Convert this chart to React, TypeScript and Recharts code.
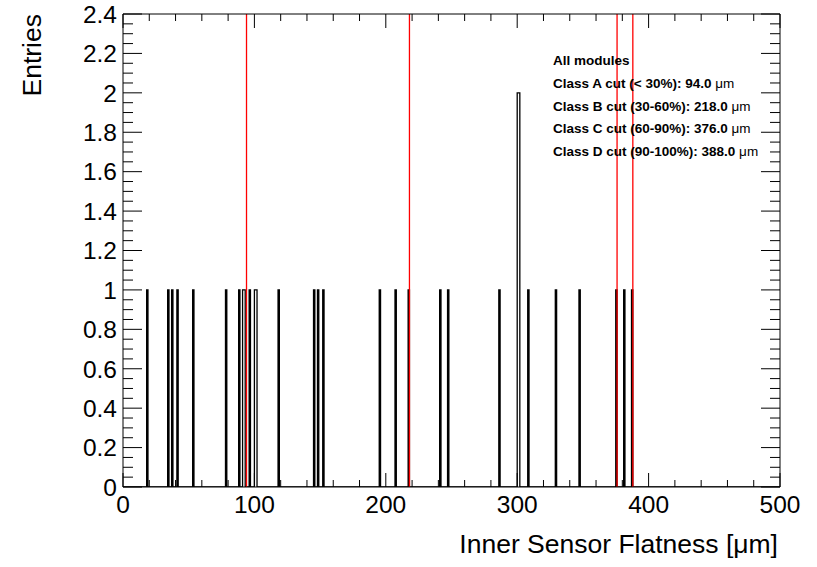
import React from 'react';
import { ComposedChart, Line, XAxis, YAxis, ReferenceLine } from 'recharts';

// Histogram: lower edges of filled bins (bin width 1 µm) and their entries
const binLowEdges = [18, 34, 37, 41, 53, 78, 88, 91, 92, 96, 100, 101, 118, 145, 148, 152, 195, 207, 217, 241, 247, 286, 300, 301, 308, 329, 347, 375, 381, 387];
const binCounts = [1, 1, 1, 1, 1, 1, 1, 1, 1, 1, 1, 1, 1, 1, 1, 1, 1, 1, 1, 1, 1, 1, 2, 2, 1, 1, 1, 1, 1, 1];
const binWidth = 1;
const histRange = [0, 500];
const yRange = [0, 2.4];

const cutValues = [94, 218, 376, 388];
const legendTitle = 'All modules';
const legendLines = [
  'Class A cut (< 30%): 94.0',
  'Class B cut (30-60%): 218.0',
  'Class C cut (60-90%): 376.0',
  'Class D cut (90-100%): 388.0',
];

const xMajorTicks = [0, 100, 200, 300, 400, 500];
const xAllTicks = [0, 20, 40, 60, 80, 100, 120, 140, 160, 180, 200, 220, 240, 260, 280, 300, 320, 340, 360, 380, 400, 420, 440, 460, 480, 500];
const yMajorTicks = [0, 0.2, 0.4, 0.6, 0.8, 1, 1.2, 1.4, 1.6, 1.8, 2, 2.2, 2.4];
const yAllTicks = [0, 0.05, 0.1, 0.15, 0.2, 0.25, 0.3, 0.35, 0.4, 0.45, 0.5, 0.55, 0.6, 0.65, 0.7, 0.75, 0.8, 0.85, 0.9, 0.95, 1, 1.05, 1.1, 1.15, 1.2, 1.25, 1.3, 1.35, 1.4, 1.45, 1.5, 1.55, 1.6, 1.65, 1.7, 1.75, 1.8, 1.85, 1.9, 1.95, 2, 2.05, 2.1, 2.15, 2.2, 2.25, 2.3, 2.35, 2.4];

const xTitle = 'Inner Sensor Flatness [μm]';
const yTitle = 'Entries';

// step outline of the histogram (ROOT style)
const stepData: { x: number; y: number }[] = [{ x: histRange[0], y: 0 }];
binLowEdges.forEach((lo, i) => {
  const prev = stepData[stepData.length - 1];
  if (prev.x === lo) prev.y = binCounts[i];
  else stepData.push({ x: lo, y: binCounts[i] });
  stepData.push({ x: lo + binWidth, y: 0 });
});
stepData.push({ x: histRange[1], y: 0 });

const FONT = '"Liberation Sans", Arial, Helvetica, sans-serif';
const X_MARGIN = 9;
const Y_MARGIN = 6;
const TICK_FONT = 24.5;

const isMajorX = (v: number) => xMajorTicks.some((m) => Math.abs(m - v) < 1e-6);
const isMajorY = (v: number) => yMajorTicks.some((m) => Math.abs(m - v) < 1e-6);
const fmtY = (v: number) => String(Math.round(v * 10) / 10);

const BottomTick = (props: any) => {
  const { x, y, payload } = props;
  const axisY = y - X_MARGIN;
  const major = isMajorX(payload.value);
  return (
    <g>
      <line x1={x} x2={x} y1={axisY} y2={axisY - (major ? 14 : 7)} stroke="#000" strokeWidth={1} />
      {major && (
        <text x={x} y={y} dy="0.71em" textAnchor="middle" fontSize={TICK_FONT} fontFamily={FONT} fill="#000">
          {payload.value}
        </text>
      )}
    </g>
  );
};

const TopTick = (props: any) => {
  const { x, y, payload } = props;
  const major = isMajorX(payload.value);
  return <line x1={x} x2={x} y1={y} y2={y + (major ? 14 : 7)} stroke="#000" strokeWidth={1} />;
};

const LeftTick = (props: any) => {
  const { x, y, payload } = props;
  const axisX = x + Y_MARGIN;
  const major = isMajorY(payload.value);
  return (
    <g>
      <line x1={axisX} x2={axisX + (major ? 19 : 10)} y1={y} y2={y} stroke="#000" strokeWidth={1} />
      {major && (
        <text x={x} y={y} dy="0.36em" textAnchor="end" fontSize={TICK_FONT} fontFamily={FONT} fill="#000">
          {fmtY(payload.value)}
        </text>
      )}
    </g>
  );
};

const RightTick = (props: any) => {
  const { x, y, payload } = props;
  const major = isMajorY(payload.value);
  return <line x1={x} x2={x - (major ? 19 : 10)} y1={y} y2={y} stroke="#000" strokeWidth={1} />;
};

function XTitleLabel(props: any) {
  const vb = props.viewBox;
  return (
    <text x={vb.x + vb.width - 2} y={vb.y + vb.height - 14} textAnchor="end" fontSize={26.5} fontFamily={FONT} fill="#000">
      {xTitle}
    </text>
  );
}

function YTitleLabel(props: any) {
  const vb = props.viewBox;
  const tx = vb.x + 41;
  const ty = vb.y;
  return (
    <text x={tx} y={ty} transform={`rotate(-90 ${tx} ${ty})`} textAnchor="end" fontSize={26.5} fontFamily={FONT} fill="#000">
      {yTitle}
    </text>
  );
}

export default function App() {
  return (
    <div style={{ position: 'relative', width: 817, height: 567, background: '#fff' }}>
      <style>{`body{margin:0;background:#fff}`}</style>
      <ComposedChart width={817} height={567} data={stepData} margin={{ top: 13, right: 36, bottom: 0, left: 0 }}>
        <XAxis
          xAxisId="b"
          dataKey="x"
          type="number"
          domain={histRange}
          allowDataOverflow
          ticks={xAllTicks}
          interval={0}
          tickSize={0}
          tickMargin={X_MARGIN}
          tick={<BottomTick />}
          axisLine={{ stroke: '#000', strokeWidth: 1 }}
          height={80}
          label={<XTitleLabel />}
        />
        <XAxis
          xAxisId="t"
          orientation="top"
          dataKey="x"
          type="number"
          domain={histRange}
          allowDataOverflow
          ticks={xAllTicks}
          interval={0}
          tickSize={0}
          tickMargin={0}
          tick={<TopTick />}
          axisLine={{ stroke: '#000', strokeWidth: 1 }}
          height={1}
        />
        <YAxis
          yAxisId="l"
          type="number"
          domain={yRange}
          allowDataOverflow
          ticks={yAllTicks}
          interval={0}
          tickSize={0}
          tickMargin={Y_MARGIN}
          tick={<LeftTick />}
          axisLine={{ stroke: '#000', strokeWidth: 1 }}
          width={123}
          label={<YTitleLabel />}
        />
        <YAxis
          yAxisId="r"
          orientation="right"
          type="number"
          domain={yRange}
          allowDataOverflow
          ticks={yAllTicks}
          interval={0}
          tickSize={0}
          tickMargin={0}
          tick={<RightTick />}
          axisLine={{ stroke: '#000', strokeWidth: 1 }}
          width={1}
        />
        <Line
          xAxisId="b"
          yAxisId="l"
          type="stepAfter"
          dataKey="y"
          stroke="#000"
          strokeWidth={1.3}
          dot={false}
          activeDot={false}
          isAnimationActive={false}
        />
        {cutValues.map((c) => (
          <ReferenceLine key={c} x={c} xAxisId="b" yAxisId="l" stroke="#ff0000" strokeWidth={1.3} />
        ))}
      </ComposedChart>
      <div
        style={{
          position: 'absolute',
          left: 553,
          top: 50,
          fontFamily: FONT,
          fontSize: 13.5,
          fontWeight: 'bold',
          color: '#000',
          lineHeight: '22.75px',
          whiteSpace: 'nowrap',
        }}
      >
        <div>{legendTitle}</div>
        {legendLines.map((t) => (
          <div key={t}>
            {t} <span style={{ fontWeight: 'normal' }}>μm</span>
          </div>
        ))}
      </div>
    </div>
  );
}
